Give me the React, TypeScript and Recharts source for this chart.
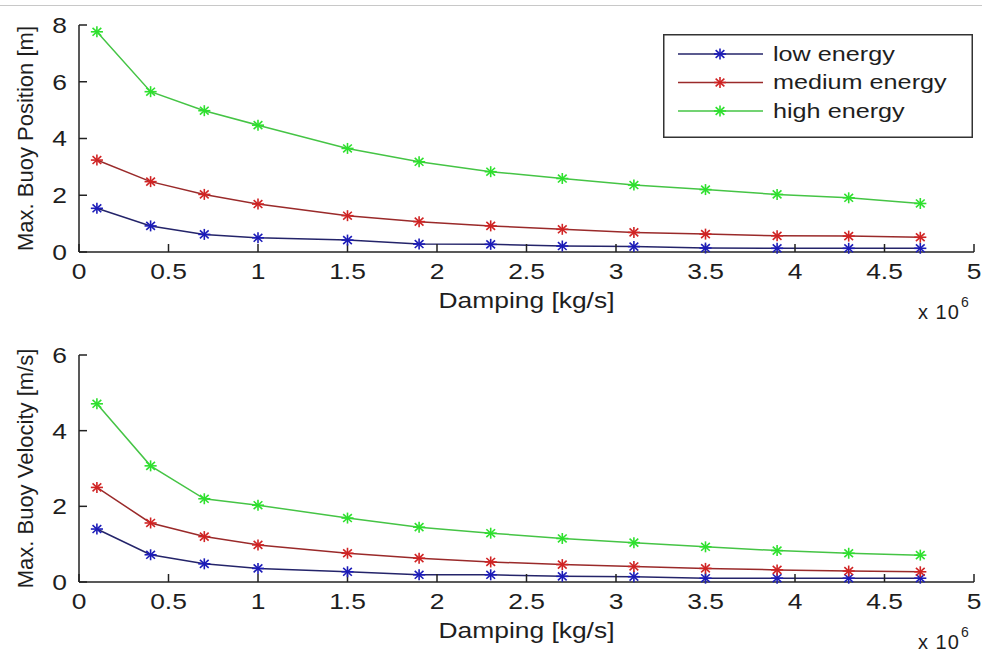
import React from 'react';
import { LineChart, Line, XAxis, YAxis } from 'recharts';

const damping = [0.1, 0.4, 0.7, 1.0, 1.5, 1.9, 2.3, 2.7, 3.1, 3.5, 3.9, 4.3, 4.7];
const posLow = [1.54, 0.92, 0.62, 0.5, 0.42, 0.28, 0.27, 0.21, 0.19, 0.14, 0.13, 0.13, 0.13];
const posMedium = [3.24, 2.48, 2.03, 1.69, 1.28, 1.07, 0.92, 0.8, 0.69, 0.63, 0.57, 0.56, 0.52];
const posHigh = [7.76, 5.65, 4.98, 4.47, 3.65, 3.18, 2.83, 2.59, 2.36, 2.2, 2.03, 1.91, 1.71];
const velLow = [1.4, 0.72, 0.48, 0.36, 0.27, 0.19, 0.19, 0.15, 0.14, 0.1, 0.1, 0.1, 0.1];
const velMedium = [2.5, 1.56, 1.2, 0.98, 0.76, 0.63, 0.53, 0.46, 0.41, 0.36, 0.32, 0.29, 0.27];
const velHigh = [4.71, 3.07, 2.2, 2.03, 1.69, 1.45, 1.29, 1.15, 1.04, 0.93, 0.83, 0.76, 0.71];
const xTicks = [0, 0.5, 1, 1.5, 2, 2.5, 3, 3.5, 4, 4.5, 5];
const posTicks = [0, 2, 4, 6, 8];
const velTicks = [0, 2, 4, 6];
const seriesNames = ['low energy', 'medium energy', 'high energy'];
const xLabel = 'Damping [kg/s]';
const posLabel = 'Max. Buoy Position [m]';
const velLabel = 'Max. Buoy Velocity [m/s]';
const scaleText = 'x 10';
const scaleExp = '6';

const lineColors = ['#24246a', '#9a2a2a', '#45c445'];
const markerColors = ['#1c1cb8', '#d02424', '#2ee02e'];
const FONT = '"Liberation Sans", Arial, sans-serif';
const TXT = '#1e1e1e';
const FS = 22;
const SX = 1.2;

const posData = damping.map((d, i) => ({ d, low: posLow[i], medium: posMedium[i], high: posHigh[i] }));
const velData = damping.map((d, i) => ({ d, low: velLow[i], medium: velMedium[i], high: velHigh[i] }));

function StarShape({ cx, cy, color, r = 5.5 }: any) {
  if (cx == null || cy == null) return null;
  const d = r * 0.72;
  return (
    <g stroke={color} strokeWidth={1.6}>
      <line x1={cx - r * 1.1} y1={cy} x2={cx + r * 1.1} y2={cy} />
      <line x1={cx} y1={cy - r} x2={cx} y2={cy + r} />
      <line x1={cx - d * 1.1} y1={cy - d} x2={cx + d * 1.1} y2={cy + d} />
      <line x1={cx - d * 1.1} y1={cy + d} x2={cx + d * 1.1} y2={cy - d} />
    </g>
  );
}

const makeDot = (idx: number) => (p: any) => (
  <StarShape key={`s${idx}-${p.index}`} cx={p.cx} cy={p.cy} color={markerColors[idx]} />
);

function LegendBox() {
  return (
    <svg width={310} height={104} style={{ position: 'absolute', left: 663, top: 34 }}>
      <rect x={0.75} y={0.75} width={308.5} height={102.5} fill="#fff" stroke="#333" strokeWidth={1.5} />
      {seriesNames.map((n, i) => {
        const cy = 20 + i * 28.5;
        return (
          <g key={n}>
            <line x1={15} y1={cy} x2={100} y2={cy} stroke={lineColors[i]} strokeWidth={1.5} />
            <StarShape cx={57} cy={cy} color={markerColors[i]} />
            <text
              transform={`translate(110 ${cy}) scale(${SX} 1)`}
              x={0}
              y={0}
              dy="0.33em"
              fontFamily={FONT}
              fontSize={21}
              fill={TXT}
            >
              {n}
            </text>
          </g>
        );
      })}
    </svg>
  );
}

function XTick({ x, y, payload }: any) {
  return (
    <text
      transform={`translate(${x} ${y}) scale(${SX} 1)`}
      x={0}
      y={0}
      dy="0.36em"
      textAnchor="middle"
      fontFamily={FONT}
      fontSize={FS}
      fill={TXT}
    >
      {payload.value}
    </text>
  );
}

function YTick({ x, y, payload }: any) {
  return (
    <text
      transform={`translate(${x} ${y}) scale(${SX} 1)`}
      x={0}
      y={0}
      dy="0.36em"
      textAnchor="end"
      fontFamily={FONT}
      fontSize={FS}
      fill={TXT}
    >
      {payload.value}
    </text>
  );
}

function YLabel(text: string) {
  return (props: any) => {
    const vb = props.viewBox || {};
    const cx = 25;
    const cy = (vb.y ?? 0) + (vb.height ?? 0) / 2;
    return (
      <text
        x={0}
        y={0}
        transform={`translate(${cx} ${cy}) rotate(-90)`}
        textAnchor="middle"
        dy="0.36em"
        fontFamily={FONT}
        fontSize={FS}
        fill={TXT}
      >
        {text}
      </text>
    );
  };
}

function XLabel(props: any) {
  const vb = props.viewBox || {};
  const cx = (vb.x ?? 0) + (vb.width ?? 0) / 2;
  const top = vb.y ?? 0;
  return (
    <g fontFamily={FONT} fill={TXT}>
      <text
        transform={`translate(${cx} ${top + 48}) scale(${SX} 1)`}
        x={0}
        y={0}
        dy="0.36em"
        textAnchor="middle"
        fontSize={FS}
      >
        {xLabel}
      </text>
      <text x={918} y={top + 67} fontSize={20} letterSpacing={1}>
        {scaleText}
      </text>
      <text x={961} y={top + 55} fontSize={14}>
        {scaleExp}
      </text>
    </g>
  );
}

function Panel({ data, ticks, max, ylabel, height }: any) {
  return (
    <LineChart width={982} height={height} data={data} margin={{ top: 25, right: 8, left: 0, bottom: 0 }}>
      <XAxis
        dataKey="d"
        type="number"
        domain={[0, 5]}
        ticks={xTicks}
        interval={0}
        tickSize={-8}
        tickMargin={27}
        height={height - 252}
        tick={<XTick />}
        axisLine={{ stroke: '#222', strokeWidth: 1.5 }}
        tickLine={{ stroke: '#222', strokeWidth: 1.5 }}
        label={{ content: XLabel }}
      />
      <YAxis
        type="number"
        domain={[0, max]}
        ticks={ticks}
        interval={0}
        width={79}
        tickSize={-8}
        tickMargin={20}
        tick={<YTick />}
        axisLine={{ stroke: '#222', strokeWidth: 1.5 }}
        tickLine={{ stroke: '#222', strokeWidth: 1.5 }}
        label={{ content: YLabel(ylabel) }}
      />
      {(['low', 'medium', 'high'] as const).map((k, i) => (
        <Line
          key={k}
          name={seriesNames[i]}
          dataKey={k}
          type="linear"
          stroke={lineColors[i]}
          strokeWidth={1.5}
          dot={makeDot(i)}
          activeDot={false}
          isAnimationActive={false}
        />
      ))}
    </LineChart>
  );
}

export default function App() {
  return (
    <div
      style={{
        position: 'absolute',
        left: 0,
        top: 0,
        width: 982,
        height: 653,
        background: '#fff',
        overflow: 'hidden',
      }}
    >
      <div style={{ position: 'absolute', left: 0, top: 5, width: 982, height: 1, background: '#c8c8c8' }} />
      <div style={{ position: 'absolute', left: 0, top: 0 }}>
        <Panel data={posData} ticks={posTicks} max={8} ylabel={posLabel} height={326} />
      </div>
      <div style={{ position: 'absolute', left: 0, top: 330 }}>
        <Panel data={velData} ticks={velTicks} max={6} ylabel={velLabel} height={323} />
      </div>
      <LegendBox />
    </div>
  );
}
